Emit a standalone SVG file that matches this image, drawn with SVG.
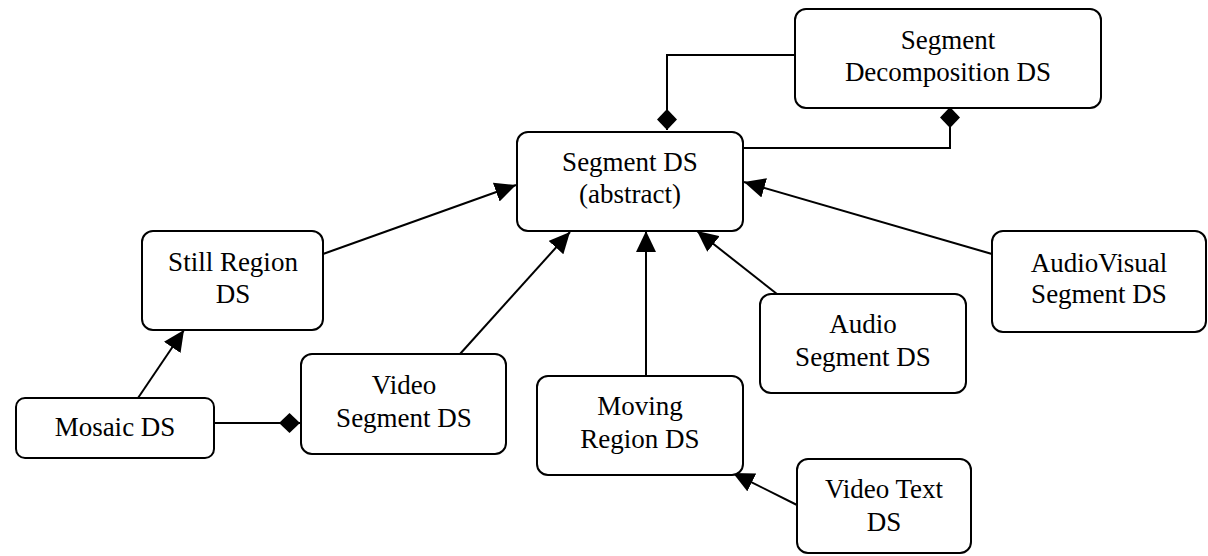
<svg xmlns="http://www.w3.org/2000/svg" width="1208" height="556" viewBox="0 0 1208 556">
  <style>
    .box { fill: #ffffff; stroke: #000000; stroke-width: 2; }
    .lbl { font-family: "Liberation Serif", "Times New Roman", serif; font-size: 27px; fill: #000000; text-anchor: middle; }
    .gen { fill: none; stroke: #000000; stroke-width: 2; marker-end: url(#tri); }
    .comp { fill: none; stroke: #000000; stroke-width: 2; marker-end: url(#dia); }
  </style>
  <defs>
    <!-- filled triangle: generalisation -->
    <marker id="tri" markerUnits="userSpaceOnUse" markerWidth="22" markerHeight="20" viewBox="0 0 22 20" refX="21" refY="10" orient="auto">
      <path d="M0,0 L21,10 L0,20 Z" fill="#000000"/>
    </marker>
    <!-- filled diamond: composition -->
    <marker id="dia" markerUnits="userSpaceOnUse" markerWidth="22" markerHeight="20" viewBox="0 0 22 20" refX="21" refY="10" orient="auto">
      <path d="M0,10 L10.5,0 L21,10 L10.5,20 Z" fill="#000000"/>
    </marker>
  </defs>

  <g id="connectors">
    <path class="comp" d="M795,55 H667 V130"/>
    <path class="comp" d="M743,148 H950 V107"/>
    <path class="gen" d="M323,254 L516,185"/>
    <path class="gen" d="M460,354 L570,232"/>
    <path class="gen" d="M646,376 L646,231"/>
    <path class="gen" d="M777,294 L697,231"/>
    <path class="gen" d="M992,254 L744,182"/>
    <path class="gen" d="M138,398 L184,330"/>
    <path class="gen" d="M797,505 L733,473"/>
    <path class="comp" d="M214,423 H300"/>
  </g>

  <g id="segment-decomposition-ds">
    <rect class="box" x="795" y="9" width="306" height="99" rx="11"/>
    <text class="lbl" x="948" y="49">Segment</text>
    <text class="lbl" x="948" y="81">Decomposition DS</text>
  </g>

  <g id="segment-ds">
    <rect class="box" x="517" y="132" width="226" height="99" rx="11"/>
    <text class="lbl" x="630" y="171">Segment DS</text>
    <text class="lbl" x="630" y="203">(abstract)</text>
  </g>

  <g id="still-region-ds">
    <rect class="box" x="142" y="231" width="181" height="99" rx="11"/>
    <text class="lbl" x="233" y="271">Still Region</text>
    <text class="lbl" x="233" y="303">DS</text>
  </g>

  <g id="audiovisual-segment-ds">
    <rect class="box" x="992" y="231" width="214" height="101" rx="11"/>
    <text class="lbl" x="1099" y="272">AudioVisual</text>
    <text class="lbl" x="1099" y="303">Segment DS</text>
  </g>

  <g id="audio-segment-ds">
    <rect class="box" x="760" y="294" width="206" height="99" rx="11"/>
    <text class="lbl" x="863" y="333">Audio</text>
    <text class="lbl" x="863" y="366">Segment DS</text>
  </g>

  <g id="video-segment-ds">
    <rect class="box" x="301" y="354" width="205" height="100" rx="11"/>
    <text class="lbl" x="404" y="394">Video</text>
    <text class="lbl" x="404" y="427">Segment DS</text>
  </g>

  <g id="moving-region-ds">
    <rect class="box" x="537" y="376" width="206" height="99" rx="11"/>
    <text class="lbl" x="640" y="415">Moving</text>
    <text class="lbl" x="640" y="448">Region DS</text>
  </g>

  <g id="mosaic-ds">
    <rect class="box" x="16" y="398" width="198" height="60" rx="9"/>
    <text class="lbl" x="115" y="436">Mosaic DS</text>
  </g>

  <g id="video-text-ds">
    <rect class="box" x="797" y="459" width="174" height="94" rx="11"/>
    <text class="lbl" x="884" y="498">Video Text</text>
    <text class="lbl" x="884" y="531">DS</text>
  </g>
</svg>
